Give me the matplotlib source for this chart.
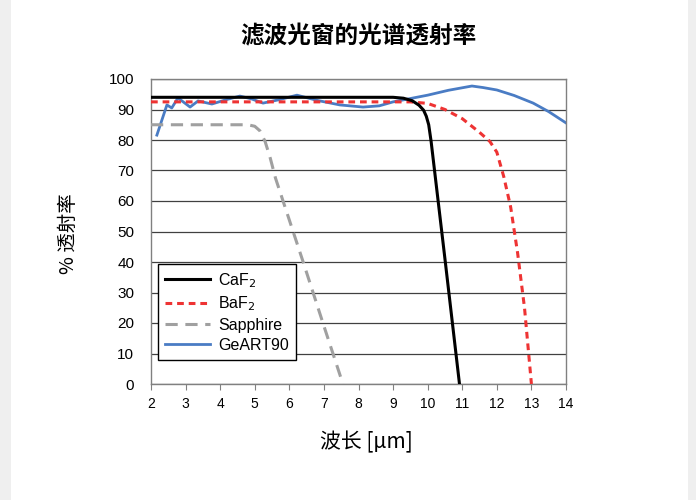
import numpy as np
import matplotlib.pyplot as plt
from matplotlib.patches import Rectangle

plt.rcParams['font.family'] = ['Liberation Sans', 'Noto Sans CJK SC', 'DejaVu Sans']

title = "滤波光窗的光谱透射率"
x_label = "波长 [µm]"
y_label = "% 透射率"

# CaF2
caf2_x = [2.0, 4.0, 6.0, 8.0, 9.0, 9.3, 9.55, 9.75, 9.88, 9.96, 10.03, 10.1, 10.5, 10.92]
caf2_y = [94.0, 94.0, 94.0, 94.0, 94.0, 93.7, 92.9, 91.4, 89.8, 87.8, 85.0, 79.5, 41.0, 0.0]

# BaF2
baf2_x = [2.0, 4.0, 6.0, 8.0, 9.5, 10.0, 10.5, 11.0, 11.5, 11.8, 12.0, 12.2, 12.4, 12.6, 12.8, 13.0]
baf2_y = [92.5, 92.5, 92.5, 92.5, 92.5, 92.0, 90.0, 87.0, 82.5, 79.5, 76.0, 68.0, 58.0, 43.0, 25.0, 0.0]

# Sapphire
sapphire_x = [2.0, 3.0, 4.0, 4.8, 5.0, 5.15, 5.3, 5.45, 5.6, 6.4, 7.0, 7.55]
sapphire_y = [85.0, 85.0, 85.0, 85.0, 84.5, 83.0, 79.5, 74.0, 67.5, 40.0, 19.0, 0.0]

# GeART90
geart_x = [2.17, 2.46, 2.6, 2.78, 3.13, 3.36, 3.76, 4.2, 4.57, 4.9, 5.24, 5.7,
           6.22, 6.8, 7.46, 8.13, 8.6, 9.0, 9.5, 10.0, 10.6, 11.28, 11.6, 12.0,
           12.5, 13.05, 13.5, 14.0]
geart_y = [81.6, 91.5, 90.5, 93.8, 90.8, 92.8, 91.8, 93.3, 94.4, 93.5, 92.1, 93.2,
           94.7, 93.0, 91.5, 90.8, 91.2, 92.5, 93.6, 94.7, 96.3, 97.7, 97.2, 96.4,
           94.6, 92.1, 89.3, 85.6]

fig = plt.figure(figsize=(6.96, 5.0), dpi=100)
fig.patch.set_facecolor('#efefef')
# white panel, light gray strips at the sides
fig.patches.append(Rectangle((11 / 696, 0), (688 - 11) / 696, 1, transform=fig.transFigure,
                             facecolor='white', edgecolor='none', zorder=-10))

ax = fig.add_axes([151 / 696, 116 / 500, 415 / 696, 305 / 500])
ax.set_facecolor('white')

ax.plot(caf2_x, caf2_y, color='black', lw=2.2, label='CaF$_2$', zorder=4)
ax.plot(baf2_x, baf2_y, color='#ee3333', lw=2.2, ls=(0, (2.2, 1.6)), label='BaF$_2$', zorder=3)
ax.plot(sapphire_x, sapphire_y, color='#a0a0a0', lw=2.2, ls=(0, (4, 2.5)), label='Sapphire', zorder=3)
ax.plot(geart_x, geart_y, color='#4a7cc4', lw=2.0, label='GeART90', zorder=2)

ax.set_xlim(2, 14)
ax.set_ylim(0, 100)
ax.set_xticks(range(2, 15))
ax.set_yticks(range(0, 101, 10))
ax.yaxis.grid(True, color='#404040', lw=0.9)
ax.set_axisbelow(True)
ax.tick_params(axis='x', direction='out', length=4, color='#808080', labelsize=10, pad=5)
ax.tick_params(axis='y', length=0, labelsize=11, pad=12)
for s in ax.spines.values():
    s.set_color('#808080')
    s.set_linewidth(1.0)

leg = ax.legend(loc='lower left', bbox_to_anchor=(0.017, 0.079), borderaxespad=0,
                fancybox=False, edgecolor='black', framealpha=1, fontsize=11.5,
                handlelength=2.8, borderpad=0.45, labelspacing=0.3, handletextpad=0.5)
leg.get_frame().set_linewidth(1.0)

fig.text(358 / 696, 1 - 36 / 500, title, ha='center', va='center', fontsize=17,
         fontweight='bold', family=['Noto Sans CJK SC', 'DejaVu Sans'])
fig.text(366 / 696, 1 - 442 / 500, x_label, ha='center', va='center', fontsize=15,
         family=['Noto Sans CJK SC', 'DejaVu Sans'])
fig.text(68 / 696, 1 - 234 / 500, y_label, ha='center', va='center', fontsize=14,
         rotation=90, family=['Noto Sans CJK SC', 'DejaVu Sans'])

plt.savefig('out.png', dpi=100, facecolor=fig.get_facecolor())
